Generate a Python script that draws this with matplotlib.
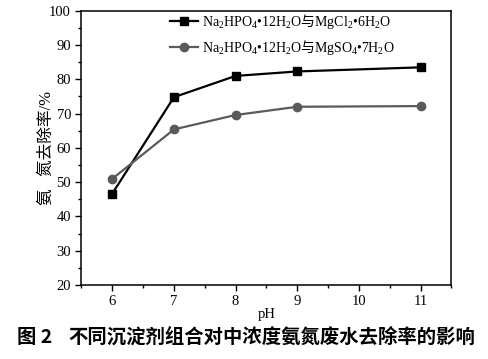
import numpy as np
import matplotlib
matplotlib.use("Agg")
import matplotlib.pyplot as plt
from matplotlib.ticker import MultipleLocator

plt.rcParams['font.family'] = ['Liberation Serif', 'Noto Sans CJK SC']
plt.rcParams['mathtext.fontset'] = 'custom'
plt.rcParams['mathtext.rm'] = 'Liberation Serif'
plt.rcParams['mathtext.it'] = 'Liberation Serif'
plt.rcParams['mathtext.sf'] = 'Noto Sans CJK SC'

# 数据
ph = [6, 7, 8, 9, 11]
mgcl2 = [46.7, 74.8, 81.0, 82.3, 83.5]
mgso4 = [51.0, 65.4, 69.6, 72.0, 72.2]
# 与 用 \mathsf 走中文字体
label_cl = r"Na$_2$HPO$_4$•12H$_2$O$\mathsf{与}$MgCl$_2$•6H$_2$O"
label_so = r"Na$_2$HPO$_4$•12H$_2$O$\mathsf{与}$MgSO$_4$•7H$_2$O"
caption_no = "图 2"
caption = "不同沉淀剂组合对中浓度氨氮废水去除率的影响"

fig = plt.figure(figsize=(4.88, 3.59), dpi=100)
ax = fig.add_axes([0.167, 0.206, 0.758, 0.764])

ax.plot(ph, mgcl2, color='#000000', lw=1.6, marker='s', ms=5.5, label=label_cl)
ax.plot(ph, mgso4, color='#5a5a5a', lw=1.6, marker='o', ms=6, label=label_so)

ax.set_xlim(5.5, 11.5)
ax.set_ylim(20, 100)
ax.xaxis.set_major_locator(MultipleLocator(1))
ax.xaxis.set_minor_locator(MultipleLocator(0.5))
ax.yaxis.set_major_locator(MultipleLocator(10))
ax.yaxis.set_minor_locator(MultipleLocator(5))
ax.tick_params(which='major', direction='out', length=4, width=1, labelsize=10.5)
ax.tick_params(which='minor', direction='out', length=2, width=1)
for s in ax.spines.values():
    s.set_linewidth(1.1)

ax.set_xlabel("pH", fontsize=10.5, labelpad=0)
ax.set_ylabel("氨   氮去除率/%", fontsize=12, labelpad=-4)

ax.legend(loc='upper left', bbox_to_anchor=(0.205, 1.04), frameon=False,
          fontsize=10, handlelength=2.0, labelspacing=0.5, handletextpad=0.3)

cap_font = ['Noto Sans CJK SC', 'DejaVu Sans']
t1 = fig.text(17 / 488, 0.061, caption_no, ha='left', va='center', fontsize=14,
              fontweight='bold', family=cap_font)
t2 = fig.text(68 / 488, 0.061, caption, ha='left', va='center', fontsize=14,
              fontweight='bold', family=cap_font)

# 按参考图宽度 (约 407px) 缩放标题字号
r = fig.canvas.get_renderer()
w = t2.get_window_extent(r).width
fs = 14 * 407 / w
t1.set_fontsize(fs)
t2.set_fontsize(fs)

fig.savefig("out.png", dpi=100)
